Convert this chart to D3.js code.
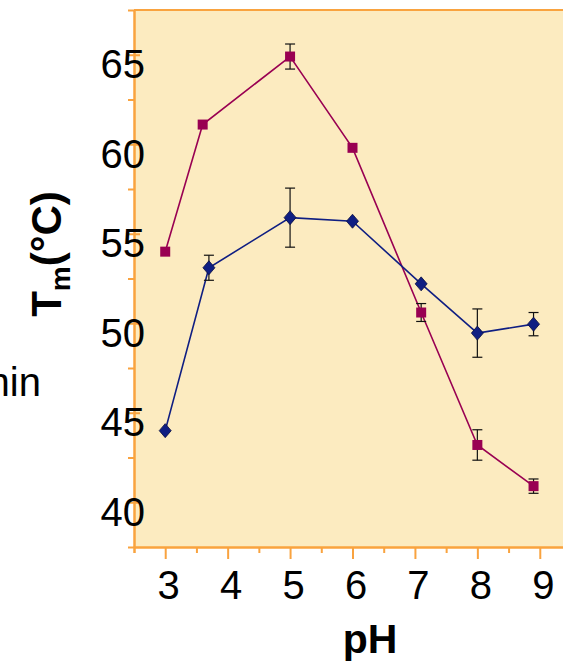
<!DOCTYPE html>
<html>
<head>
<meta charset="utf-8">
<script src="https://cdn.jsdelivr.net/npm/d3@7"></script>
<style>
  body { margin: 0; background: #fff; }
  text { font-family: "Liberation Sans", Arial, sans-serif; }
</style>
</head>
<body>
<svg width="563" height="662"></svg>
<script>
// pH values and melting temperatures
const purplePH = [3.0, 3.6, 5.0, 6.0, 7.1, 8.0, 8.9];
const purpleTm = [54.0, 61.1, 64.9, 59.8, 50.6, 43.2, 40.9];
const purpleErr = [0, 0, 0.7, 0, 0.5, 0.85, 0.4];

const bluePH = [3.0, 3.7, 5.0, 6.0, 7.1, 8.0, 8.9];
const blueTm = [44.0, 53.1, 55.9, 55.7, 52.2, 49.45, 49.95];
const blueErr = [0, 0.7, 1.65, 0, 0, 1.35, 0.65];

const xTicks = [3, 4, 5, 6, 7, 8, 9];
const yTicks = [40, 45, 50, 55, 60, 65];

const svg = d3.select("svg");
const plotLeft = 134, plotRight = 571, plotTop = 10, plotBottom = 547;

const x = d3.scaleLinear().domain([2.5, 9.5]).range([plotLeft, plotRight]);
const y = d3.scaleLinear().domain([37.5, 67.5]).range([plotBottom, plotTop]);

const orange = "#f9a33f";

// plot background
svg.append("rect")
    .attr("x", plotLeft).attr("y", plotTop)
    .attr("width", plotRight - plotLeft).attr("height", plotBottom - plotTop)
    .attr("fill", "#fcebc0");
svg.append("line")
    .attr("x1", plotLeft).attr("x2", plotRight)
    .attr("y1", plotTop).attr("y2", plotTop)
    .attr("stroke", orange).attr("stroke-width", 2);

// y axis
const yMinor = svg.append("g")
    .attr("transform", `translate(${plotLeft},0)`)
    .call(d3.axisLeft(y).tickValues([42.5, 47.5, 52.5, 57.5, 62.5]).tickSize(6).tickFormat(""));
const yAxis = svg.append("g")
    .attr("transform", `translate(${plotLeft},0)`)
    .call(d3.axisLeft(y).tickValues(yTicks).tickSize(6).tickSizeOuter(0).tickFormat(d3.format("d")));
yAxis.selectAll(".tick line").attr("x1", -6).attr("x2", 6);
yAxis.selectAll(".tick text")
    .attr("x", 11).attr("dy", "0.57em")
    .attr("font-size", 40).attr("fill", "#000");

// x axis
const xMinor = svg.append("g")
    .attr("transform", `translate(0,${plotBottom})`)
    .call(d3.axisBottom(x).tickValues([2.5, 3.5, 4.5, 5.5, 6.5, 7.5, 8.5, 9.5]).tickSize(6).tickFormat(""));
const xAxis = svg.append("g")
    .attr("transform", `translate(0,${plotBottom})`)
    .call(d3.axisBottom(x).tickValues(xTicks).tickSize(12).tickSizeOuter(0).tickFormat(d3.format("d")));
xAxis.selectAll(".tick text")
    .attr("y", 52).attr("dy", 0).attr("x", 3)
    .attr("font-size", 40).attr("fill", "#000");

[yMinor, yAxis, xMinor, xAxis].forEach(g => {
    g.select(".domain").attr("stroke", orange).attr("stroke-width", 2);
    g.selectAll(".tick line").attr("stroke", orange).attr("stroke-width", 2);
});

// axis titles
svg.append("text")
    .attr("x", 370).attr("y", 653)
    .attr("text-anchor", "middle")
    .attr("font-size", 41).attr("font-weight", "bold")
    .text("pH");

const yTitle = svg.append("text")
    .attr("transform", "translate(61,254) rotate(-90)")
    .attr("text-anchor", "middle")
    .attr("font-size", 42).attr("font-weight", "bold");
yTitle.append("tspan").text("T");
yTitle.append("tspan").attr("font-size", 28).attr("dy", 9).text("m");
yTitle.append("tspan").attr("dy", -9).text("(°C)");

// label from a neighbouring panel, cut by the left edge as in the source
svg.append("text")
    .attr("x", 41).attr("y", 396)
    .attr("text-anchor", "end")
    .attr("font-size", 40)
    .text("min");

// series
const series = [
    {ph: purplePH, tm: purpleTm, err: purpleErr, color: "#990052", shape: "square"},
    {ph: bluePH, tm: blueTm, err: blueErr, color: "#0f1e82", shape: "diamond"}
];

const line = d3.line().x(d => x(d[0])).y(d => y(d[1]));

series.forEach(s => {
    const pts = s.ph.map((p, i) => [p, s.tm[i], s.err[i]]);

    svg.append("path")
        .attr("d", line(pts))
        .attr("fill", "none")
        .attr("stroke", s.color)
        .attr("stroke-width", 1.6);

    const eb = svg.append("g").attr("stroke", "#111").attr("stroke-width", 1.2);
    pts.filter(d => d[2] > 0).forEach(d => {
        const cx = x(d[0]);
        eb.append("line").attr("x1", cx).attr("x2", cx)
            .attr("y1", y(d[1] + d[2])).attr("y2", y(d[1] - d[2]));
        [d[1] + d[2], d[1] - d[2]].forEach(v => {
            eb.append("line").attr("x1", cx - 5).attr("x2", cx + 5)
                .attr("y1", y(v)).attr("y2", y(v));
        });
    });

    if (s.shape === "square") {
        svg.append("g").selectAll("rect")
            .data(pts).join("rect")
            .attr("x", d => x(d[0]) - 5)
            .attr("y", d => y(d[1]) - 5)
            .attr("width", 10).attr("height", 10)
            .attr("fill", s.color);
    } else {
        svg.append("g").selectAll("path")
            .data(pts).join("path")
            .attr("d", d => {
                const cx = x(d[0]), cy = y(d[1]);
                return `M${cx},${cy - 7}L${cx + 6},${cy}L${cx},${cy + 7}L${cx - 6},${cy}Z`;
            })
            .attr("fill", s.color)
            .attr("stroke", "#0a0f40")
            .attr("stroke-width", 0.8);
    }
});
</script>
</body>
</html>
